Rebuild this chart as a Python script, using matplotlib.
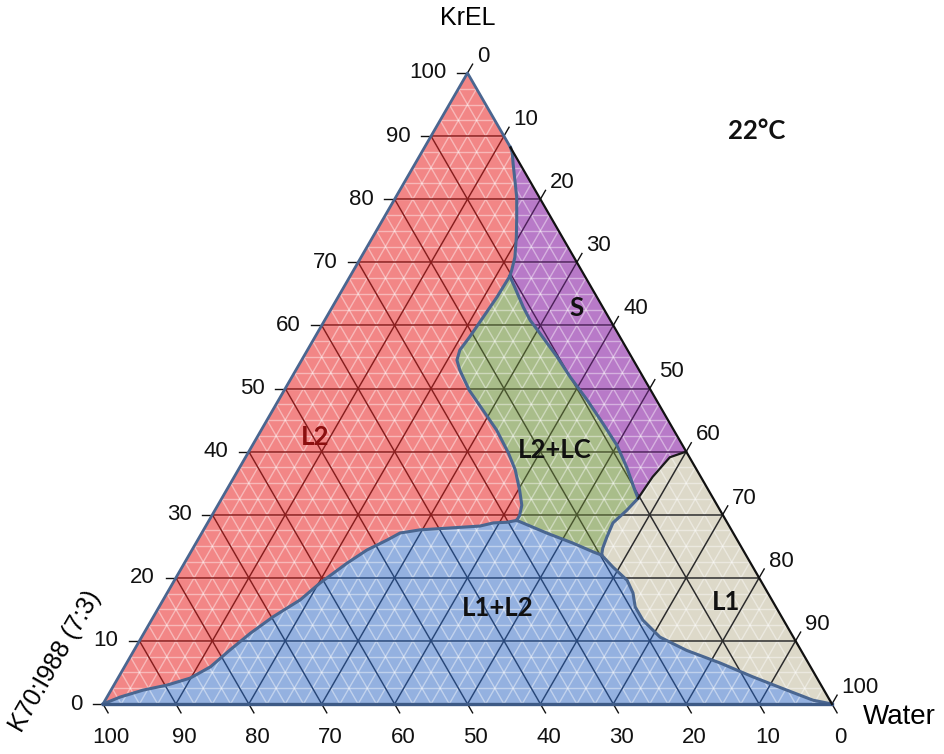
import numpy as np
import matplotlib.pyplot as plt
from matplotlib.patches import Polygon
from matplotlib.collections import LineCollection

# phase boundaries, as (Water %, KrEL %)
s_l2 = [(11.8, 88.2), (12.5, 87.3), (13.4, 85.7), (15.0, 83.0), (16.6, 80.3),
        (18.2, 77.1), (19.7, 74.0), (21.1, 70.8), (21.7, 68.7), (21.9, 67.8)]
lc_l2 = [(21.9, 67.8), (21.8, 64.5), (21.5, 61.3), (21.2, 58.1), (20.9, 56.1),
         (21.3, 54.5), (22.5, 52.9), (25.4, 49.7), (28.8, 46.6), (32.3, 43.4),
         (35.7, 39.8), (38.0, 37.1), (40.2, 33.9), (41.7, 31.5), (42.2, 29.9),
         (42.2, 29.1)]
l2_l1l2 = [(42.2, 29.1), (41.0, 28.8), (39.2, 28.7), (37.6, 28.2), (33.7, 27.9),
           (29.7, 27.6), (27.2, 27.1), (26.0, 26.0), (24.0, 24.4), (22.3, 22.3),
           (20.2, 19.2), (18.8, 16.5), (16.4, 13.8), (14.6, 11.2), (13.1, 8.5),
           (11.8, 5.9), (9.9, 4.1), (7.3, 3.0), (4.4, 2.2), (1.8, 1.1), (0, 0)]
s_lc = [(21.9, 67.8), (23.5, 66.0), (26.2, 62.9), (28.2, 60.8), (30.5, 58.8),
        (34.8, 55.0), (38.2, 51.8), (42.3, 48.2), (46.3, 44.5), (50.0, 41.0),
        (53.1, 37.5), (56.0, 33.9), (57.1, 32.6)]
s_l1 = [(57.1, 32.6), (57.4, 36.0), (58.2, 39.1), (60.0, 40.0)]
lc_l1 = [(57.1, 32.6), (56.5, 30.7), (55.6, 28.7), (55.9, 26.4), (56.2, 24.7),
         (56.6, 23.6)]
lc_l1l2 = [(42.2, 29.1), (47.3, 27.1), (51.7, 25.5), (55.2, 24.1), (56.6, 23.6)]
l1_l1l2 = [(56.6, 23.6), (59.1, 21.7), (62.1, 19.6), (63.9, 17.6), (65.3, 15.4),
           (67.4, 13.3), (71.1, 10.6), (75.8, 8.5), (81.4, 6.5), (87.0, 4.3),
           (92.7, 2.2), (97.1, 0.6), (100, 0)]

ticks = list(range(0, 101, 10))

colors = {
    'L2': ('#f28686', '#8a1c1c'),
    'S': ('#b87ac8', '#4e1f5c'),
    'L2+LC': ('#a9bd8a', '#48562c'),
    'L1+L2': ('#94b1e0', '#26467a'),
    'L1': ('#ddd9c9', '#2b2b2b'),
}
edge_col = '#4a6690'
R3 = np.sqrt(3) / 2


def tern(pts):
    pts = np.asarray(pts, dtype=float)
    w, kr = pts[:, 0], pts[:, 1]
    return np.column_stack([w + kr / 2, kr * R3])


regions = {
    'L2': [(0, 100)] + s_l2 + lc_l2[1:] + l2_l1l2[1:],
    'S': [(11.8, 88.2), (60, 40)] + s_l1[::-1][1:] + s_lc[::-1][1:] + s_l2[::-1][1:],
    'L2+LC': s_lc + lc_l1[1:] + lc_l1l2[::-1][1:] + lc_l2[::-1][1:],
    'L1+L2': [(0, 0), (100, 0)] + l1_l1l2[::-1][1:] + lc_l1l2[::-1][1:] + l2_l1l2[1:],
    'L1': [(60, 40), (100, 0)] + l1_l1l2[::-1][1:] + lc_l1[::-1][1:] + s_l1[1:],
}


def grid_segments(step):
    segs = []
    for v in np.arange(step, 100, step):
        segs.append(tern([(0, v), (100 - v, v)]))      # const KrEL
        segs.append(tern([(v, 0), (v, 100 - v)]))      # const Water
        segs.append(tern([(100 - v, 0), (0, 100 - v)]))  # const K70
    return segs


fig = plt.figure(figsize=(9.45, 7.54), dpi=100)
ax = fig.add_axes([103 / 945, 50 / 754, 729 / 945, 631 / 754])
ax.set_xlim(0, 100)
ax.set_ylim(0, 100 * R3)
ax.axis('off')

minor = grid_segments(2.5)
major = grid_segments(10)

for name, pts in regions.items():
    fill, dark = colors[name]
    patch = Polygon(tern(pts), closed=True, facecolor=fill, edgecolor='none', zorder=1)
    ax.add_patch(patch)
    lc = LineCollection(minor, colors='white', linewidths=1.0, alpha=0.42, zorder=2)
    ax.add_collection(lc)
    lc.set_clip_path(patch)
    lc2 = LineCollection(major, colors=dark, linewidths=1.1, zorder=3)
    ax.add_collection(lc2)
    lc2.set_clip_path(patch)

# phase boundaries
for curve in [s_l2, lc_l2, l2_l1l2, s_lc, lc_l1, lc_l1l2, l1_l1l2]:
    xy = tern(curve)
    ax.plot(xy[:, 0], xy[:, 1], color=edge_col, lw=2.2, solid_joinstyle='round',
            zorder=5, clip_on=False)
xy = tern(s_l1)
ax.plot(xy[:, 0], xy[:, 1], color='#1a1a1a', lw=1.6, zorder=5)

# triangle edges
xy = tern([(0, 0), (0, 100), (11.8, 88.2)])
ax.plot(xy[:, 0], xy[:, 1], color=edge_col, lw=2, zorder=6, clip_on=False)
xy = tern([(0, 0), (100, 0)])
ax.plot(xy[:, 0], xy[:, 1], color='#3d5a86', lw=2.4, zorder=6, clip_on=False)
xy = tern([(11.8, 88.2), (100, 0)])
ax.plot(xy[:, 0], xy[:, 1], color='#111111', lw=1.6, zorder=6, clip_on=False)

tk = 1.4
tfont = dict(fontsize=16, family='Liberation Sans', color='#111111')
for v in ticks:
    # KrEL on the left side
    p = tern([(0, v)])[0]
    ax.plot([p[0], p[0] - tk], [p[1], p[1]], color='#111111', lw=1, clip_on=False)
    ax.annotate(str(v), p, xytext=(-15, 0), textcoords='offset points',
                ha='right', va='center', **tfont)
    # Water on the right side
    p = tern([(v, 100 - v)])[0]
    ax.plot([p[0], p[0] + tk * 0.5], [p[1], p[1] + tk * R3], color='#111111', lw=1,
            clip_on=False)
    ax.annotate(str(v), p, xytext=(7, 12), textcoords='offset points',
                ha='left', va='center', **tfont)
    # K70:I988 along the bottom
    p = tern([(100 - v, 0)])[0]
    ax.plot([p[0], p[0] + tk * 0.5], [p[1], p[1] - tk * R3], color='#111111', lw=1,
            clip_on=False)
    ax.annotate(str(v), p, xytext=(6, -24), textcoords='offset points',
                ha='center', va='center', **tfont)

ax.text(50.1, 94.1, 'KrEL', ha='center', va='center', fontsize=18,
        family='Liberation Sans', clip_on=False)
ax.text(109.2, -1.8, 'Water', ha='center', va='center', fontsize=20,
        family='Liberation Sans', clip_on=False)
ax.text(-6.6, 5.8, 'K70:I988 (7:3)', ha='center', va='center', fontsize=18,
        family='Liberation Sans', rotation=60, clip_on=False)

bfont = dict(fontsize=18.5, family='Lato', fontweight='bold', ha='center', va='center')
ax.text(89.7, 78.7, '22°C', color='#111111', clip_on=False, **bfont)
ax.text(64.9, 54.3, 'S', color='#111111', zorder=8, **bfont)
ax.text(29.1, 36.6, 'L2', color='#8b1010', zorder=8, **bfont)
ax.text(62.0, 34.8, 'L2+LC', color='#111111', zorder=8, **bfont)
ax.text(54.2, 13.2, 'L1+L2', color='#111111', zorder=8, **bfont)
ax.text(85.5, 14.0, 'L1', color='#111111', zorder=8, **bfont)

fig.savefig('out.png', dpi=100)
